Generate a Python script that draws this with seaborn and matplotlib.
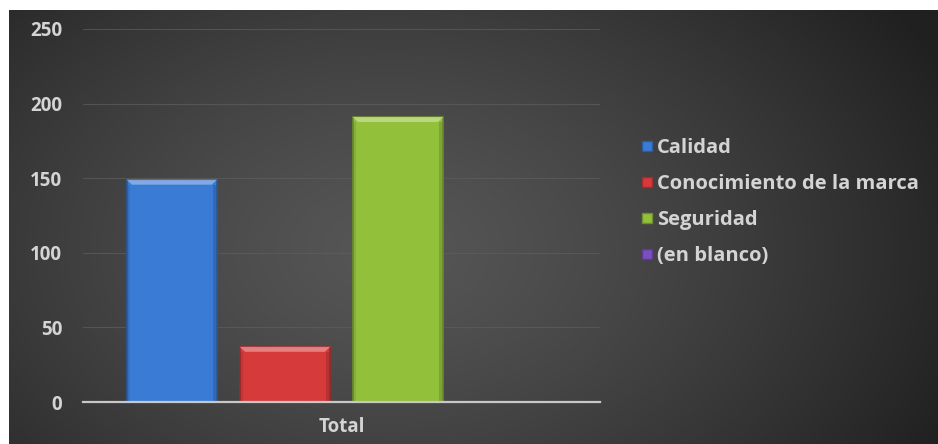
import numpy as np
import pandas as pd
import matplotlib
matplotlib.use("Agg")
import matplotlib.pyplot as plt
import matplotlib.colors as mcolors
from matplotlib.patches import Polygon, Rectangle
from matplotlib.lines import Line2D
import seaborn as sns

# Data
categories = ["Calidad", "Conocimiento de la marca", "Seguridad", "(en blanco)"]
values = [149, 37, 191, 0]
group_label = ["Total"]
colors = ["#3a7bd5", "#d63a3a", "#93c03a", "#7a4fc0"]
yticks = [0, 50, 100, 150, 200, 250]

df = pd.DataFrame({"grupo": group_label * len(categories),
                   "serie": categories,
                   "valor": values})

sns.set_theme(style="dark")
plt.rcParams["font.family"] = ["Open Sans", "DejaVu Sans"]
text_col = "#d4d4d4"

W, H = 938, 444
fig = plt.figure(figsize=(W / 100, H / 100), dpi=100, facecolor="white")

# Dark radial background panel
bg = fig.add_axes([9 / W, 0, 1 - 9 / W, 1 - 10 / H])
bg.set_axis_off()
ny, nx = 434, 929
yy, xx = np.mgrid[0:ny, 0:nx]
r = np.sqrt(((xx - 380) / 620.0) ** 2 + ((yy - 240) / 420.0) ** 2)
r = np.clip(r, 0, 1)
val = (0x56 - (0x56 - 0x20) * r ** 1.3) / 255.0
img = np.dstack([val, val, val])
bg.imshow(img, aspect="auto", extent=[0, 1, 0, 1], interpolation="bilinear")
bg.set_xlim(0, 1)
bg.set_ylim(0, 1)

# Plot area
left, right = 83 / W, 600 / W
bottom, top = (H - 402) / H, (H - 29) / H
ax = fig.add_axes([left, bottom, right - left, top - bottom])
ax.patch.set_alpha(0)

sns.barplot(data=df, x="grupo", y="valor", hue="serie", hue_order=categories,
            palette=colors, width=0.875, gap=0.2, saturation=1,
            legend=False, ax=ax, zorder=3)

ax.set_ylim(0, 250)
ax.set_xlim(-0.5, 0.5)
ax.set_yticks(yticks)
ax.set_yticklabels([str(t) for t in yticks])
ax.yaxis.grid(True, color="#5e5e5e", lw=0.8, alpha=0.7, zorder=0)
ax.xaxis.grid(False)
for s in ["top", "right", "left"]:
    ax.spines[s].set_visible(False)
ax.spines["bottom"].set_color("#c8c8c8")
ax.spines["bottom"].set_linewidth(1.6)
ax.spines["bottom"].set_zorder(5)
ax.set_xlabel("")
ax.set_ylabel("")
ax.tick_params(axis="y", length=0, pad=15, labelsize=13.5, labelcolor=text_col)
ax.tick_params(axis="x", length=0, pad=11, labelsize=13.5, labelcolor=text_col)
for lab in ax.get_yticklabels() + ax.get_xticklabels():
    lab.set_fontweight("bold")

# Bevel shading on each bar, derived from the drawn patches
px_per_unit_y = (top - bottom) * H / 250.0
for patch, col in zip(ax.patches, colors):
    x0, y0 = patch.get_x(), patch.get_y()
    w, h = patch.get_width(), patch.get_height()
    if h <= 0:
        continue
    base = np.array(mcolors.to_rgb(col))
    dark = base * 0.72
    light = np.clip(base + (1 - base) * 0.45, 0, 1)
    patch.set_edgecolor(mcolors.to_hex(dark))
    patch.set_linewidth(1.2)
    bev_y = 5 / px_per_unit_y
    bev_x = w * 0.06
    top_y = y0 + h
    ax.add_patch(Polygon([[x0, top_y], [x0 + w, top_y],
                          [x0 + w - bev_x, top_y - bev_y], [x0 + bev_x, top_y - bev_y]],
                         closed=True, facecolor=mcolors.to_hex(light),
                         edgecolor="none", alpha=0.8, zorder=4))
    ax.add_patch(Rectangle((x0 + w - bev_x * 0.8, y0), bev_x * 0.8, h - bev_y,
                           facecolor=mcolors.to_hex(dark), edgecolor="none",
                           alpha=0.5, zorder=4))
    ax.add_patch(Rectangle((x0, y0), bev_x * 0.6, h - bev_y,
                           facecolor=mcolors.to_hex(dark), edgecolor="none",
                           alpha=0.3, zorder=4))

# Legend
handles = [Line2D([0], [0], marker="s", linestyle="none", markersize=6.5,
                  markerfacecolor=c, markeredgecolor=mcolors.to_hex(np.array(mcolors.to_rgb(c)) * 0.75))
           for c in colors]
leg = fig.legend(handles, categories, loc="upper left",
                 bbox_to_anchor=(624 / W, 1 - 120 / H), frameon=False,
                 handlelength=0.5, handletextpad=0.25, labelspacing=0.8,
                 prop={"size": 14.5, "weight": "bold"})
for t in leg.get_texts():
    t.set_color(text_col)

fig.savefig("out.png", dpi=100, facecolor="white")
